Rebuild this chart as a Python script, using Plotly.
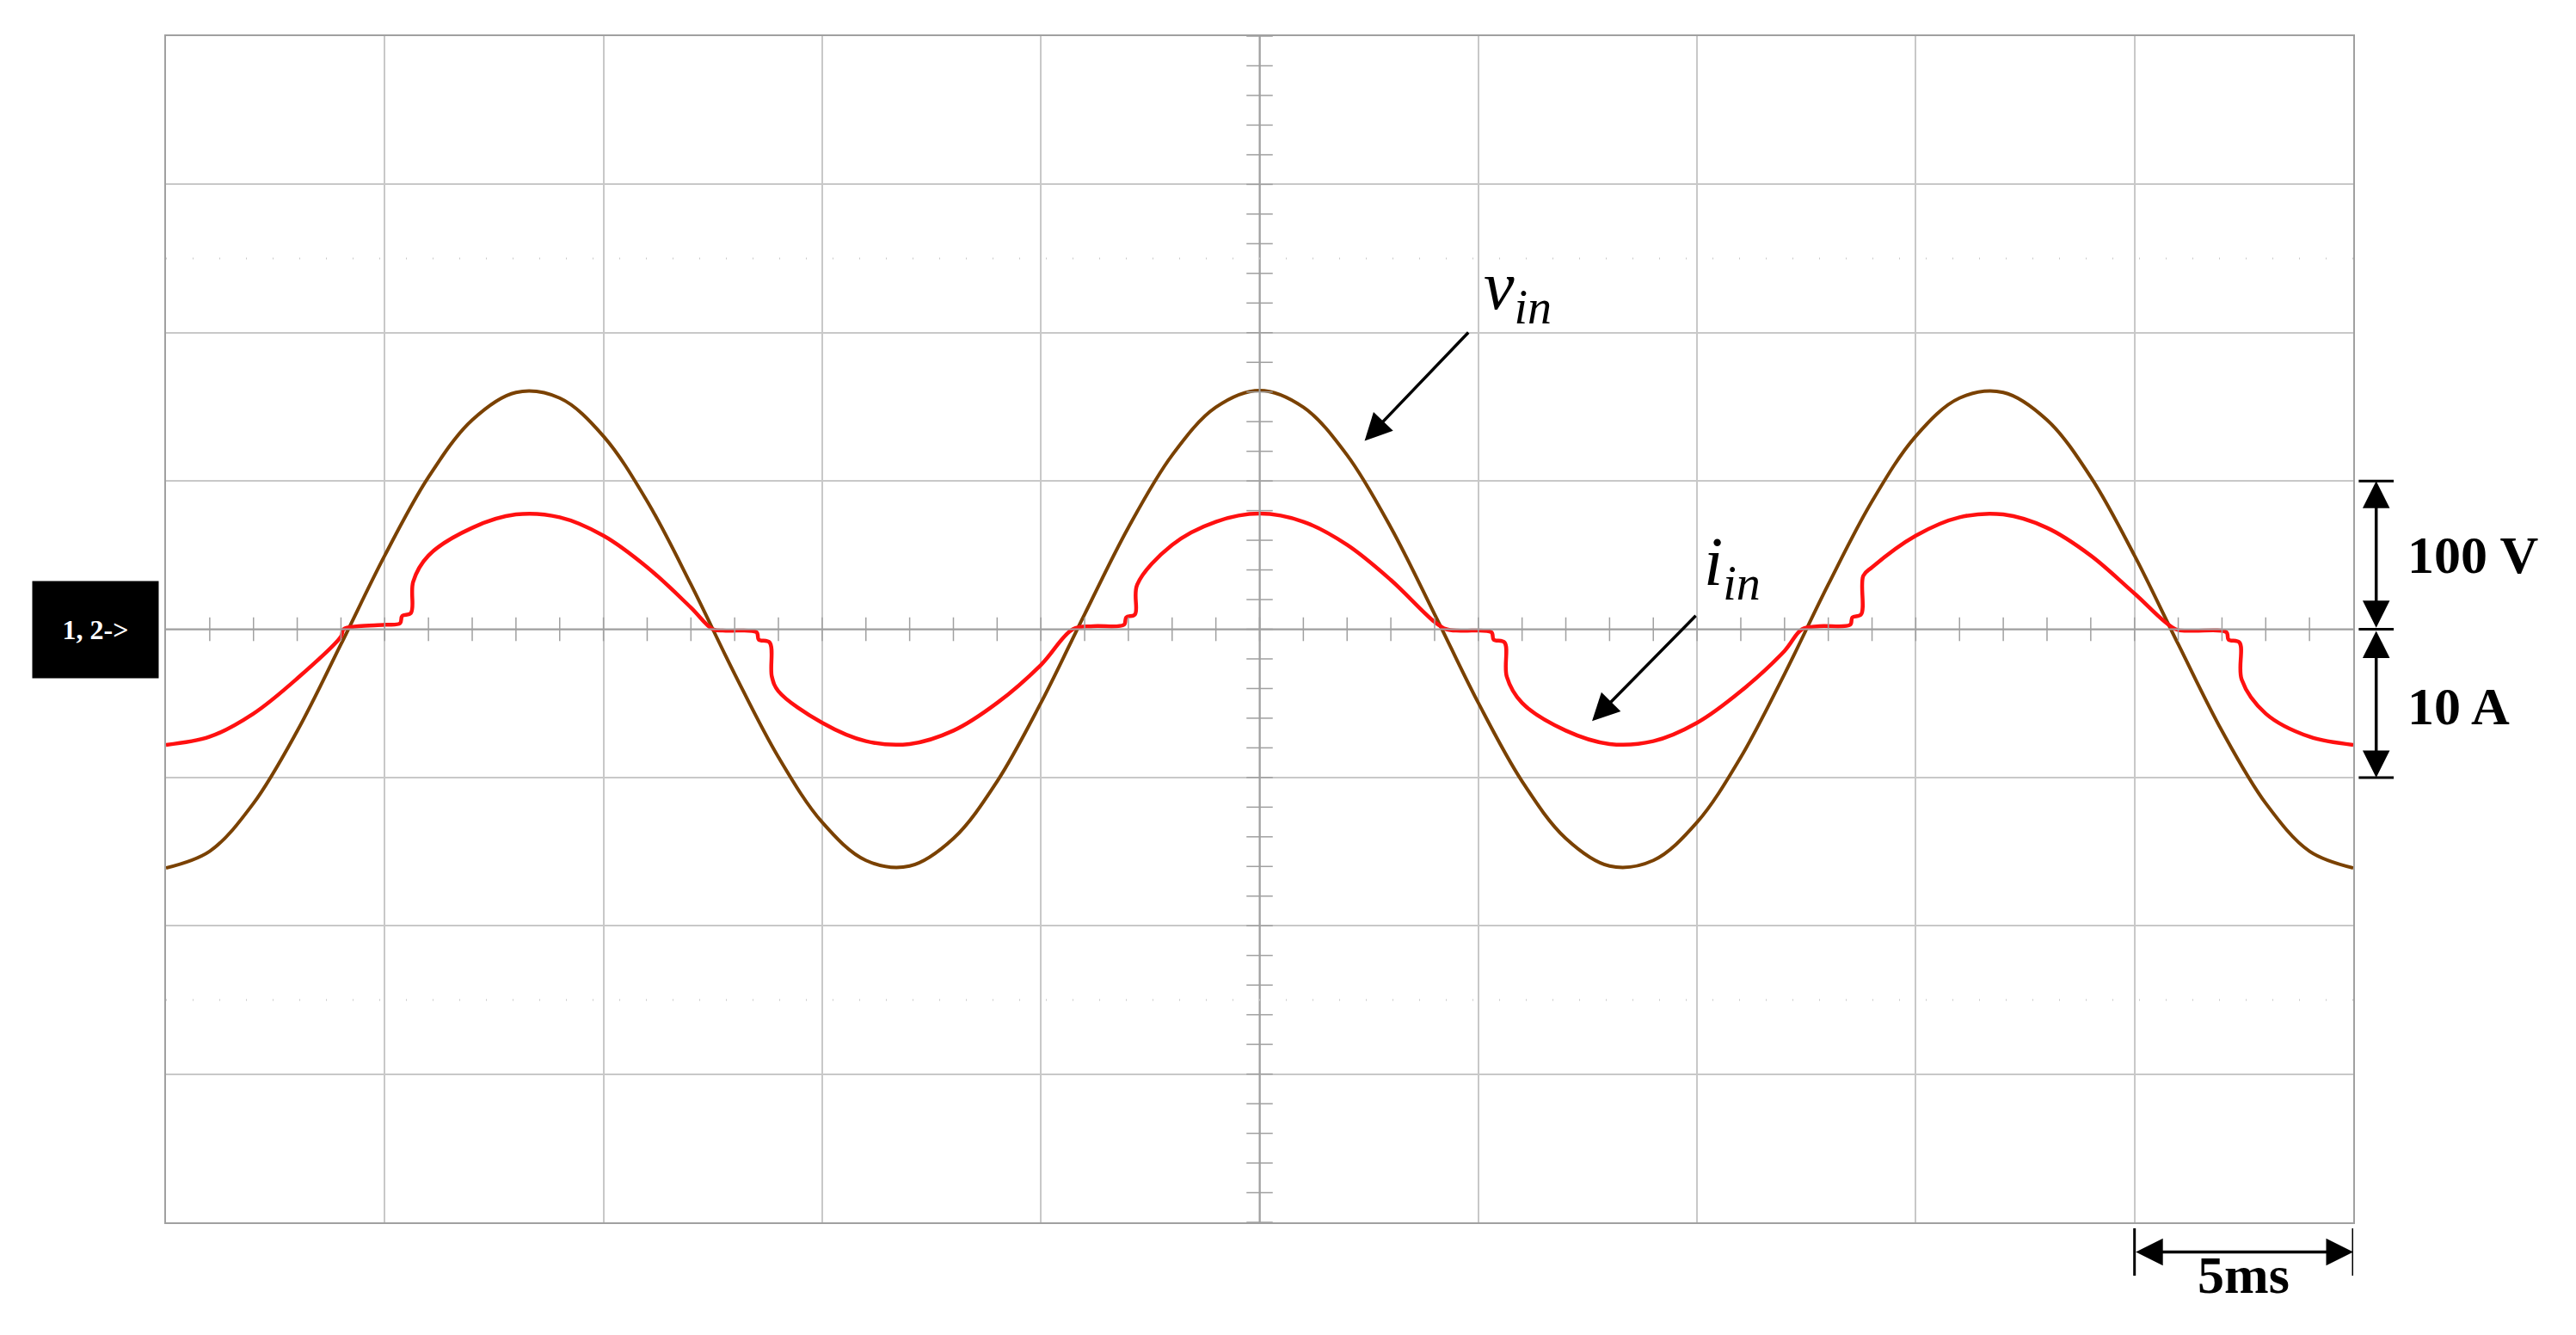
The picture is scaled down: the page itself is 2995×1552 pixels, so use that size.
import plotly.graph_objects as go

# time base in ms, 5 ms per division
t_v = list(range(0, 51))
v_in = [-161, -149.7, -117.4, -68.6, -10.1, 49.7, 102.6, 141.1, 159.7, 155.9, 130.2, 86.3, 30.2,
        -30.2, -86.3, -130.2, -155.9, -159.7, -141.1, -102.6, -49.7, 10.1, 68.6, 117.4, 149.7, 161,
        149.7, 117.4, 68.6, 10.1, -49.7, -102.6, -141.1, -159.7, -155.9, -130.2, -86.3, -30.2,
        30.2, 86.3, 130.2, 155.9, 159.7, 141.1, 102.6, 49.7, -10.1, -68.6, -117.4, -149.7, -161]

t_i = [0, 1, 2, 3, 4, 4.06, 4.4, 5.0, 5.35, 5.4, 5.6, 5.65, 6, 7, 8, 9, 10, 11, 12,
       12.5, 12.8, 13.5, 13.55, 13.8, 13.85, 14, 15, 16, 17, 18, 19, 20,
       20.73, 21.2, 21.9, 21.95, 22.15, 22.2, 23, 24, 25, 26, 27, 28, 29,
       29.27, 29.6, 30.3, 30.35, 30.6, 30.65, 31, 32, 33, 34, 35, 36, 37,
       37.4, 37.8, 38.5, 38.55, 38.75, 38.8, 39, 40, 41, 42, 43, 44, 45,
       45.94, 46.3, 47.1, 47.15, 47.4, 47.45, 48, 49, 50]
i_in = [-7.8, -7.25, -5.69, -3.32, -0.49, 0, 0.2, 0.3, 0.4, 0.9, 1.1, 3.2, 4.97, 6.84, 7.74, 7.55, 6.31, 4.18, 1.46,
        0, -0.1, -0.2, -0.7, -0.9, -3.2, -4.18, -6.31, -7.55, -7.74, -6.84, -4.97, -2.41,
        0, 0.2, 0.3, 0.8, 1.0, 3.0, 5.69, 7.25, 7.8, 7.25, 5.69, 3.32, 0.49,
        0, -0.1, -0.2, -0.7, -0.9, -3.2, -4.97, -6.84, -7.74, -7.55, -6.31, -4.18, -1.46,
        0, 0.2, 0.3, 0.8, 1.0, 3.6, 4.18, 6.31, 7.55, 7.74, 6.84, 4.97, 2.41,
        0, -0.1, -0.2, -0.7, -0.9, -3.4, -5.69, -7.25, -7.8]

BROWN = '#7a4100'
RED = '#ff1010'
GRID = '#c8c8c8'
SERIF = 'Times New Roman, Liberation Serif, serif'

fig = go.Figure()
fig.add_trace(go.Scatter(x=t_v, y=v_in, mode='lines', line=dict(color=BROWN, width=4, shape='spline', smoothing=1.0)))
fig.add_trace(go.Scatter(x=t_i, y=i_in, mode='lines', yaxis='y2',
                         line=dict(color=RED, width=4.5, shape='spline', smoothing=1.0)))

shapes = []
# center crosshair with minor ticks
shapes.append(dict(type='line', xref='x', yref='y', x0=0, x1=50, y0=0, y1=0, line=dict(color='#a0a0a0', width=2)))
shapes.append(dict(type='line', xref='x', yref='y', x0=25, x1=25, y0=-400, y1=400, line=dict(color='#a0a0a0', width=2)))
for k in range(1, 50):
    shapes.append(dict(type='line', xref='x', yref='y', x0=k, x1=k, y0=-8, y1=8, line=dict(color='#a0a0a0', width=1.5)))
for k in range(-20, 21):
    shapes.append(dict(type='line', xref='x', yref='y', x0=24.7, x1=25.3, y0=k * 20, y1=k * 20, line=dict(color='#a0a0a0', width=1.5)))
# dotted rows
for yv in (250, -250):
    shapes.append(dict(type='line', xref='x', yref='y', x0=0, x1=50, y0=yv, y1=yv, line=dict(color='#c8c8c8', width=2, dash='1px,30px')))
# scale caps on the right
for yv in (100, 0, -100):
    shapes.append(dict(type='line', xref='paper', yref='y', x0=1.0025, x1=1.0185, y0=yv, y1=yv, line=dict(color='black', width=3)))
# 5 ms caps
for xv in (45, 50):
    shapes.append(dict(type='line', xref='x', yref='paper', x0=xv, x1=xv, y0=-0.005, y1=-0.045, line=dict(color='black', width=3)))

arrow = dict(showarrow=True, arrowhead=2, arrowsize=1.8, arrowwidth=3.5, arrowcolor='black', text='')
ann = []
ann.append(dict(xref='x', yref='y', x=27.4, y=127, axref='x', ayref='y', ax=29.8, ay=201, **arrow))
ann.append(dict(xref='x', yref='y', x=30.9, y=228, text='<i>v<sub>in</sub></i>', showarrow=False,
                font=dict(family=SERIF, size=80, color='black')))
ann.append(dict(xref='x', yref='y', x=32.6, y=-62, axref='x', ayref='y', ax=35.0, ay=10, **arrow))
ann.append(dict(xref='x', yref='y', x=35.8, y=42, text='<i>i<sub>in</sub></i>', showarrow=False,
                font=dict(family=SERIF, size=80, color='black')))
# scale arrows
ann.append(dict(xref='paper', yref='y', x=1.0105, y=100, ax=0, ay=172, arrowside='end+start', **arrow))
ann.append(dict(xref='paper', yref='y', x=1.0105, y=-100, ax=0, ay=-172, arrowside='end+start', **arrow))
ann.append(dict(xref='paper', yref='y', x=1.024, y=50, xanchor='left', text='<b>100 V</b>', showarrow=False,
                font=dict(family=SERIF, size=62, color='black')))
ann.append(dict(xref='paper', yref='y', x=1.024, y=-52, xanchor='left', text='<b>10 A</b>', showarrow=False,
                font=dict(family=SERIF, size=62, color='black')))
ann.append(dict(xref='x', yref='paper', x=50, y=-0.025, axref='x', ax=45, ayref='pixel', ay=0,
                arrowside='end+start', **arrow))
ann.append(dict(xref='x', yref='paper', x=47.5, y=-0.07, text='<b>5ms</b>', showarrow=False,
                font=dict(family=SERIF, size=62, color='black')))
ann.append(dict(xref='paper', yref='y', x=-0.003, y=0, xanchor='right', text='<b>1, 2-></b>', showarrow=False,
                bgcolor='black', borderpad=2, width=142, height=108,
                font=dict(family=SERIF, size=32, color='white')))

fig.update_layout(
    width=2995, height=1552,
    margin=dict(l=185, r=267, t=34, b=139),
    paper_bgcolor='white', plot_bgcolor='white',
    showlegend=False,
    xaxis=dict(range=[0, 50], dtick=5, showgrid=True, gridcolor=GRID, gridwidth=2, showticklabels=False,
               zeroline=False, showline=True, linecolor='#a0a0a0', linewidth=2, mirror=True, ticks=''),
    yaxis=dict(range=[-400, 400], dtick=100, showgrid=True, gridcolor=GRID, gridwidth=2, showticklabels=False,
               zeroline=False, showline=True, linecolor='#a0a0a0', linewidth=2, mirror=True, ticks=''),
    yaxis2=dict(range=[-40, 40], overlaying='y', showgrid=False, showticklabels=False, zeroline=False),
    shapes=shapes,
    annotations=ann,
)

fig.write_html('out.html')
